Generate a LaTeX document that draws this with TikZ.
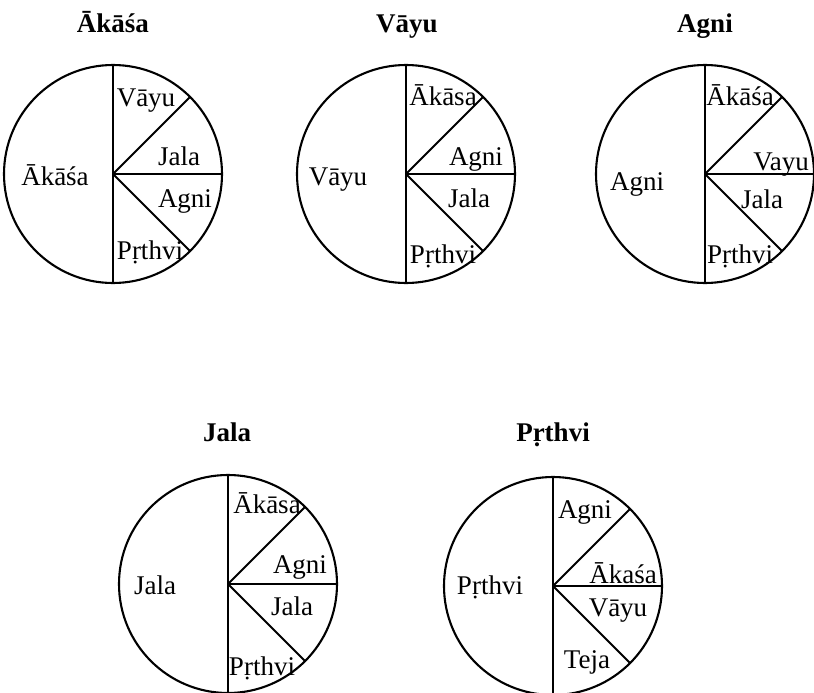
\documentclass[tikz,border=0pt]{standalone}
\usepackage{fontspec}
\setmainfont{Liberation Serif}
\tikzset{
  part/.style={inner sep=0pt, text height=17pt, text depth=0pt, font=\fontsize{27}{30}\selectfont},
  head/.style={inner sep=0pt, text height=17pt, text depth=0pt, font=\fontsize{27}{30}\selectfont\bfseries},
}
\begin{document}
\begin{tikzpicture}[x=1pt,y=-1pt,line width=2.1pt]
        \useasboundingbox (0,0) rectangle (814,693);

        % akasa
        \node[head] (akasaT) at (113,24) {Ākāśa};
        \coordinate (akasaC) at (113,174);
        \draw (akasaC) circle (109);
        \draw (akasaC) ++(0,-109) -- ++(0,218);
        \draw (akasaC) -- ++(109,0);
        \draw (akasaC) -- ++(-45:109);
        \draw (akasaC) -- ++(45:109);
        \node[part] (akasaW) at (55,177) {Ākāśa};
        \node[part] (akasa1) at (146,98) {Vāyu};
        \node[part] (akasa2) at (179,157) {Jala};
        \node[part] (akasa3) at (185,199) {Agni};
        \node[part] (akasa4) at (150,251) {Pṛthvi};

        % vayu
        \node[head] (vayuT) at (407,24) {Vāyu};
        \coordinate (vayuC) at (406,174);
        \draw (vayuC) circle (109);
        \draw (vayuC) ++(0,-109) -- ++(0,218);
        \draw (vayuC) -- ++(109,0);
        \draw (vayuC) -- ++(-45:109);
        \draw (vayuC) -- ++(45:109);
        \node[part] (vayuW) at (338,177) {Vāyu};
        \node[part] (vayu1) at (443,97) {Ākāsa};
        \node[part] (vayu2) at (476,157) {Agni};
        \node[part] (vayu3) at (469,199) {Jala};
        \node[part] (vayu4) at (443,255) {Pṛthvi};

        % agni
        \node[head] (agniT) at (705,24) {Agni};
        \coordinate (agniC) at (705,174);
        \draw (agniC) circle (109);
        \draw (agniC) ++(0,-109) -- ++(0,218);
        \draw (agniC) -- ++(109,0);
        \draw (agniC) -- ++(-45:109);
        \draw (agniC) -- ++(45:109);
        \node[part] (agniW) at (637,182) {Agni};
        \node[part] (agni1) at (740,97) {Ākāśa};
        \node[part] (agni2) at (781,162) {Vayu};
        \node[part] (agni3) at (762,200) {Jala};
        \node[part] (agni4) at (740,255) {Pṛthvi};

        % jala
        \node[head] (jalaT) at (227,433) {Jala};
        \coordinate (jalaC) at (228,584);
        \draw (jalaC) circle (109);
        \draw (jalaC) ++(0,-109) -- ++(0,218);
        \draw (jalaC) -- ++(109,0);
        \draw (jalaC) -- ++(-45:109);
        \draw (jalaC) -- ++(45:109);
        \node[part] (jalaW) at (155,586) {Jala};
        \node[part] (jala1) at (267,505) {Ākāsa};
        \node[part] (jala2) at (300,565) {Agni};
        \node[part] (jala3) at (292,607) {Jala};
        \node[part] (jala4) at (262,667) {Pṛthvi};

        % prthvi
        \node[head] (prthviT) at (553,433) {Pṛthvi};
        \coordinate (prthviC) at (553,586);
        \draw (prthviC) circle (109);
        \draw (prthviC) ++(0,-109) -- ++(0,218);
        \draw (prthviC) -- ++(109,0);
        \draw (prthviC) -- ++(-45:109);
        \draw (prthviC) -- ++(45:109);
        \node[part] (prthviW) at (490,586) {Pṛthvi};
        \node[part] (prthvi1) at (585,510) {Agni};
        \node[part] (prthvi2) at (623,575) {Ākaśa};
        \node[part] (prthvi3) at (618,608) {Vāyu};
        \node[part] (prthvi4) at (587,660) {Teja};
    \end{tikzpicture}
\end{document}
